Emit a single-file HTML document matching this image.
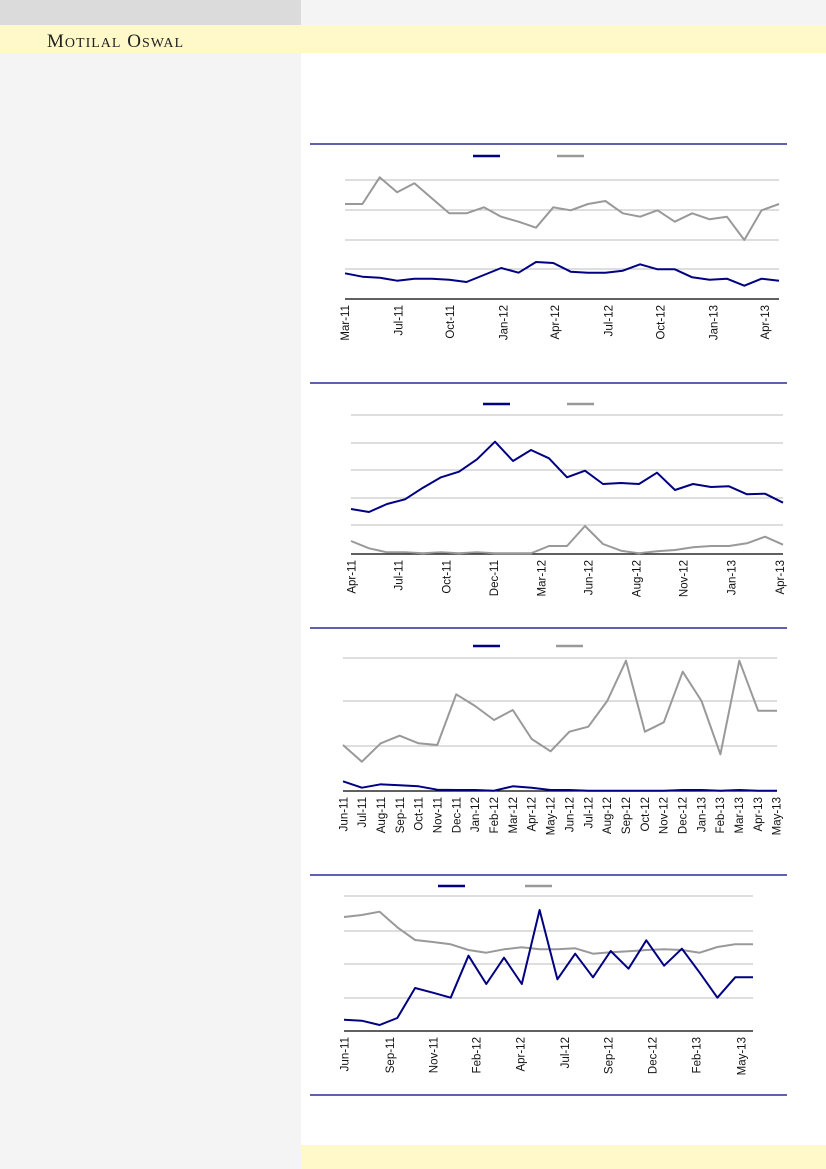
<!DOCTYPE html>
<html><head><meta charset="utf-8"><style>
html,body{margin:0;padding:0;width:826px;height:1169px;overflow:hidden;background:#fff;}
</style></head><body>
<svg id="s" width="826" height="1169" xmlns="http://www.w3.org/2000/svg" style="position:absolute;left:0;top:0">
<rect x="0" y="0" width="826" height="1169" fill="#fff"/>
<rect x="0" y="0" width="301" height="25" fill="#dbdbdb"/>
<rect x="301" y="0" width="525" height="25" fill="#f4f4f4"/>
<rect x="0" y="25" width="826" height="28" fill="#fff8c8"/>
<rect x="0" y="53" width="301" height="1116" fill="#f4f4f4"/>
<rect x="301" y="1145" width="525" height="24" fill="#fff8c8"/>
<text x="47" y="47" font-family="Liberation Serif, serif" font-size="19" fill="#222" letter-spacing="1">M<tspan font-size="14">OTILAL</tspan> O<tspan font-size="14">SWAL</tspan></text>
<g stroke="#000080" stroke-width="1.2">
<line x1="310" y1="144" x2="787" y2="144"/><line x1="310" y1="383" x2="787" y2="383"/>
<line x1="310" y1="628" x2="787" y2="628"/><line x1="310" y1="875" x2="787" y2="875"/>
<line x1="310" y1="1095" x2="787" y2="1095"/>
</g>
<g id="c" font-family="Liberation Sans, sans-serif" font-size="11.5" fill="#111"></g>
</svg>
<script>
var NS="http://www.w3.org/2000/svg",g=document.getElementById('c');
function el(t,a,txt){var e=document.createElementNS(NS,t);for(var k in a)e.setAttribute(k,a[k]);if(txt)e.textContent=txt;g.appendChild(e);return e;}
function chart(o){
 o.grid.forEach(function(y){el('line',{x1:o.x0,x2:o.x1,y1:y,y2:y,stroke:'#bdbdbd','stroke-width':1});});
 el('line',{x1:o.x0,x2:o.x1,y1:o.base,y2:o.base,stroke:'#000','stroke-width':1.3});
 function pl(ys,c){var n=ys.length,p=ys.map(function(v,i){return (o.x0+(o.x1-o.x0)*i/(n-1)).toFixed(1)+','+(o.zy+v/3).toFixed(1);}).join(' ');
  el('polyline',{points:p,fill:'none',stroke:c,'stroke-width':2,'stroke-linejoin':'round'});}
 pl(o.gray,'#999');pl(o.navy,'#000080');
 el('line',{x1:o.lg[0],x2:o.lg[0]+27,y1:o.lg[2],y2:o.lg[2],stroke:'#000080','stroke-width':2.5});
 el('line',{x1:o.lg[1],x2:o.lg[1]+27,y1:o.lg[2],y2:o.lg[2],stroke:'#999','stroke-width':2.5});
 o.labels.forEach(function(l){var x=l[1]/3+300+4,y=o.base+6;el('text',{x:x,y:y,'text-anchor':'end',transform:'rotate(-90 '+x+' '+y+')'},l[0]);});
}
chart({x0:345,x1:779,zy:140,base:299,grid:[180,210,240,269],lg:[473,557,156],
gray:[192,192,112,157,130,175,220,220,202,230,245,263,202,211,192,183,220,230,211,245,220,238,230,300,211,192],
navy:[400,410,413,422,416,416,419,426,405,384,398,366,369,395,398,398,392,373,388,388,412,419,416,437,416,422],
labels:[['Mar-11',135],['Jul-11',295],['Oct-11',450],['Jan-12',610],['Apr-12',765],['Jul-12',925],['Oct-12',1082],['Jan-13',1240],['Apr-13',1395]]});
chart({x0:351,x1:783,zy:380,base:554,grid:[415,443,470,498,525],lg:[483,567,404],
navy:[387,396,372,358,323,292,275,238,185,243,210,235,292,272,312,309,312,278,330,312,321,319,343,341,368],
gray:[483,505,517,517,520,517,520,517,520,520,520,498,498,438,492,512,520,514,510,502,498,498,490,470,494],
labels:[['Apr-11',155],['Jul-11',295],['Oct-11',440],['Dec-11',582],['Mar-12',725],['Jun-12',865],['Aug-12',1010],['Nov-12',1150],['Jan-13',1295],['Apr-13',1440]]});
var m3=['Jun-11','Jul-11','Aug-11','Sep-11','Oct-11','Nov-11','Dec-11','Jan-12','Feb-12','Mar-12','Apr-12','May-12','Jun-12','Jul-12','Aug-12','Sep-12','Oct-12','Nov-12','Dec-12','Jan-13','Feb-13','Mar-13','Apr-13','May-13'];
chart({x0:343,x1:777,zy:620,base:791,grid:[658,701,746],lg:[473,556,646],
gray:[375,425,370,347,370,375,223,258,300,270,357,394,335,320,243,122,335,307,155,243,403,122,272,272],
navy:[484,503,493,496,499,509,510,510,512,499,503,510,510,512,512,512,512,512,510,510,512,510,512,512],
labels:m3.map(function(m,i){return [m,(130+1300*i/23)];})});
chart({x0:344,x1:753,zy:865,base:1031,grid:[896,931,964,998],lg:[438,525,886],
navy:[464,467,480,459,369,383,398,272,357,278,357,135,343,266,337,258,311,226,302,251,323,398,337,337],
gray:[156,150,140,187,225,231,238,255,263,253,247,253,253,250,266,262,259,255,253,255,263,246,238,238],
labels:[['Jun-11',133],['Sep-11',270],['Nov-11',400],['Feb-12',530],['Apr-12',662],['Jul-12',795],['Sep-12',925],['Dec-12',1058],['Feb-13',1190],['May-13',1325]]});
</script>
</body></html>
